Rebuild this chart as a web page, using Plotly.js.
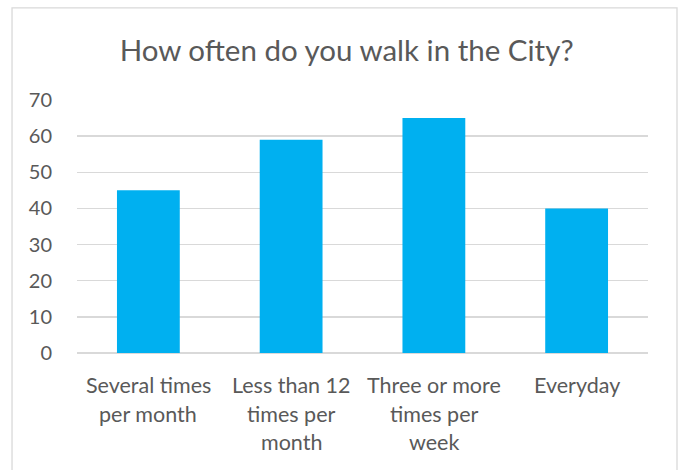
<!DOCTYPE html>
<html>
<head>
<meta charset="utf-8">
<script src="https://cdn.plot.ly/plotly-3.0.1.min.js"></script>
<style>html,body{margin:0;padding:0;background:#fff;}#chart{width:681px;height:470px;}</style>
</head>
<body>
<div id="chart"></div>
<script>
const categories = ["Several times per month", "Less than 12 times per month", "Three or more times per week", "Everyday"];
const tickLines = [["Several times", "per month"], ["Less than 12", "times per", "month"], ["Three or more", "times per", "week"], ["Everyday"]];
const values = [45, 59, 65, 40];
const yTicks = [0, 10, 20, 30, 40, 50, 60, 70];

const fontFam = "Lato, 'Open Sans', sans-serif";
const trace = {
  type: 'bar',
  x: categories,
  y: values,
  marker: {color: '#00b0f0'},
  hoverinfo: 'none'
};
const annotations = [];
categories.forEach((c, i) => {
  tickLines[i].forEach((line, j) => {
    annotations.push({
      xref: 'x', yref: 'paper', x: c, y: 0, yanchor: 'middle', xanchor: 'center',
      yshift: -32 - 28.5 * j, text: line, showarrow: false,
      font: {family: fontFam, size: 21.5, color: '#595959'}
    });
  });
});
const layout = {
  width: 681, height: 470,
  margin: {l: 77, r: 33, t: 100, b: 117.3},
  paper_bgcolor: '#fff', plot_bgcolor: '#fff',
  bargap: 0.56,
  showlegend: false,
  title: {text: 'How often do you walk in the City?', font: {family: fontFam, size: 29.5, color: '#595959'}, xref: 'container', x: 0.509, xanchor: 'center', y: 0.893, yanchor: 'middle'},
  xaxis: {
    showticklabels: false,
    ticks: '', showgrid: false, showline: false, zeroline: false, fixedrange: true
  },
  yaxis: {
    range: [0, 70], tickmode: 'array', tickvals: yTicks,
    tickfont: {family: fontFam, size: 20, color: '#595959'},
    ticks: '', showgrid: true, gridcolor: '#d9d9d9', gridwidth: 1.3,
    zeroline: true, zerolinecolor: '#d9d9d9', zerolinewidth: 1.3,
    showline: false, ticklabelstandoff: 24, fixedrange: true
  },
  annotations: annotations,
  shapes: [{
    type: 'rect', xref: 'paper', yref: 'paper',
    x0: -0.1138, x1: 1.0508, y0: -0.6, y1: 1.364,
    line: {color: '#d9d9d9', width: 1.3}, fillcolor: 'rgba(0,0,0,0)', layer: 'below'
  }]
};
Plotly.newPlot('chart', [trace], layout, {displayModeBar: false, staticPlot: true});
</script>
</body>
</html>
